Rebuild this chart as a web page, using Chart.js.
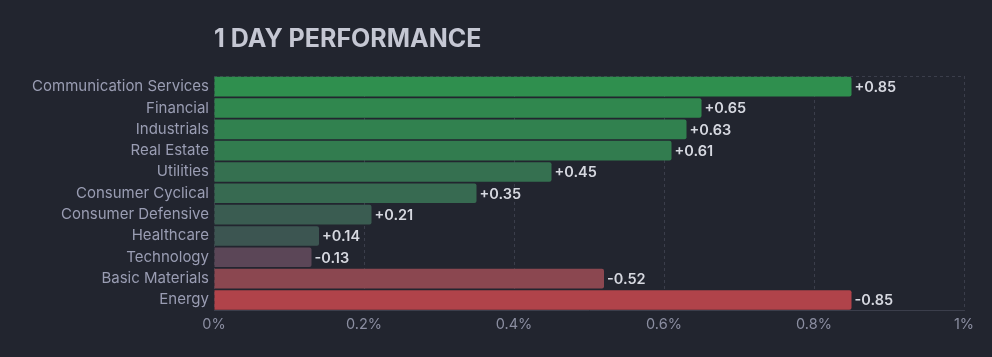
<!DOCTYPE html>
<html>
<head>
<meta charset="utf-8">
<script src="https://cdn.jsdelivr.net/npm/chart.js@4/dist/chart.umd.min.js"></script>
<style>
  html, body { margin: 0; padding: 0; background: #22252f; }
  #wrap { width: 992px; height: 357px; position: relative; }
</style>
</head>
<body>
<div id="wrap"><canvas id="c"></canvas></div>
<script>
const sectors = ["Communication Services","Financial","Industrials","Real Estate","Utilities","Consumer Cyclical","Consumer Defensive","Healthcare","Technology","Basic Materials","Energy"];
const performance = [0.85, 0.65, 0.63, 0.61, 0.45, 0.35, 0.21, 0.14, -0.13, -0.52, -0.85];
const barColors = ["#2f8f4e","#30874e","#31814f","#327c4f","#357050","#376a51","#3a5c51","#3c5551","#5b4657","#8b4750","#b0434a"];
const tickValues = [0, 0.2, 0.4, 0.6, 0.8, 1];

const gridColor = "#3b3e4b";

const valueLabels = {
  id: "valueLabels",
  afterDatasetsDraw(chart) {
    const ctx = chart.ctx;
    const meta = chart.getDatasetMeta(0);
    ctx.save();
    ctx.font = "600 14.5px Inter";
    ctx.fillStyle = "#d6d8e0";
    ctx.textBaseline = "middle";
    ctx.textAlign = "left";
    meta.data.forEach((bar, i) => {
      const v = performance[i];
      const txt = (v > 0 ? "+" : "") + v.toFixed(2);
      ctx.fillText(txt, bar.x + 3, bar.y + 1);
    });
    ctx.restore();
  }
};

const topLine = {
  id: "topLine",
  beforeDatasetsDraw(chart) {
    const a = chart.chartArea, ctx = chart.ctx;
    ctx.save();
    ctx.strokeStyle = gridColor;
    ctx.lineWidth = 1;
    ctx.setLineDash([3, 3]);
    ctx.beginPath();
    ctx.moveTo(a.left, Math.round(a.top) + 0.5);
    ctx.lineTo(a.right, Math.round(a.top) + 0.5);
    ctx.stroke();
    ctx.restore();
  }
};

new Chart(document.getElementById("c"), {
  type: "bar",
  data: {
    labels: sectors,
    datasets: [{
      data: performance.map(v => Math.abs(v)),
      backgroundColor: barColors,
      borderRadius: 2,
      borderSkipped: "start",
      barPercentage: 0.92,
      categoryPercentage: 1
    }]
  },
  options: {
    indexAxis: "y",
    responsive: true,
    maintainAspectRatio: false,
    animation: false,
    layout: { padding: { left: 10, right: 28, top: 0, bottom: 19 } },
    plugins: {
      legend: { display: false },
      tooltip: { enabled: false },
      title: {
        display: true,
        text: "1 DAY PERFORMANCE",
        align: "start",
        fullSize: false,
        color: "#c5c7d3",
        font: { family: "Inter", size: 25, weight: "bold", lineHeight: 1.2 },
        padding: { top: 24, bottom: 22 }
      }
    },
    scales: {
      x: {
        min: 0, max: 1,
        afterBuildTicks(scale) { scale.ticks = tickValues.map(v => ({ value: v })); },
        ticks: {
          color: "#8b8ea1",
          font: { family: "Inter", size: 14.5 },
          padding: 5,
          callback: v => (Math.round(v * 10) / 10) + "%"
        },
        grid: { color: gridColor, drawTicks: false, tickLength: 0 },
        border: { display: true, color: gridColor, dash: [3, 3] }
      },
      y: {
        afterFit(scale) { scale.width = 204; },
        ticks: {
          color: "#9a9db3",
          font: { family: "Inter", size: 15 },
          padding: 5,
          autoSkip: false
        },
        grid: { display: false, drawTicks: false },
        border: { display: false }
      }
    }
  },
  plugins: [valueLabels, topLine]
});
</script>
</body>
</html>
